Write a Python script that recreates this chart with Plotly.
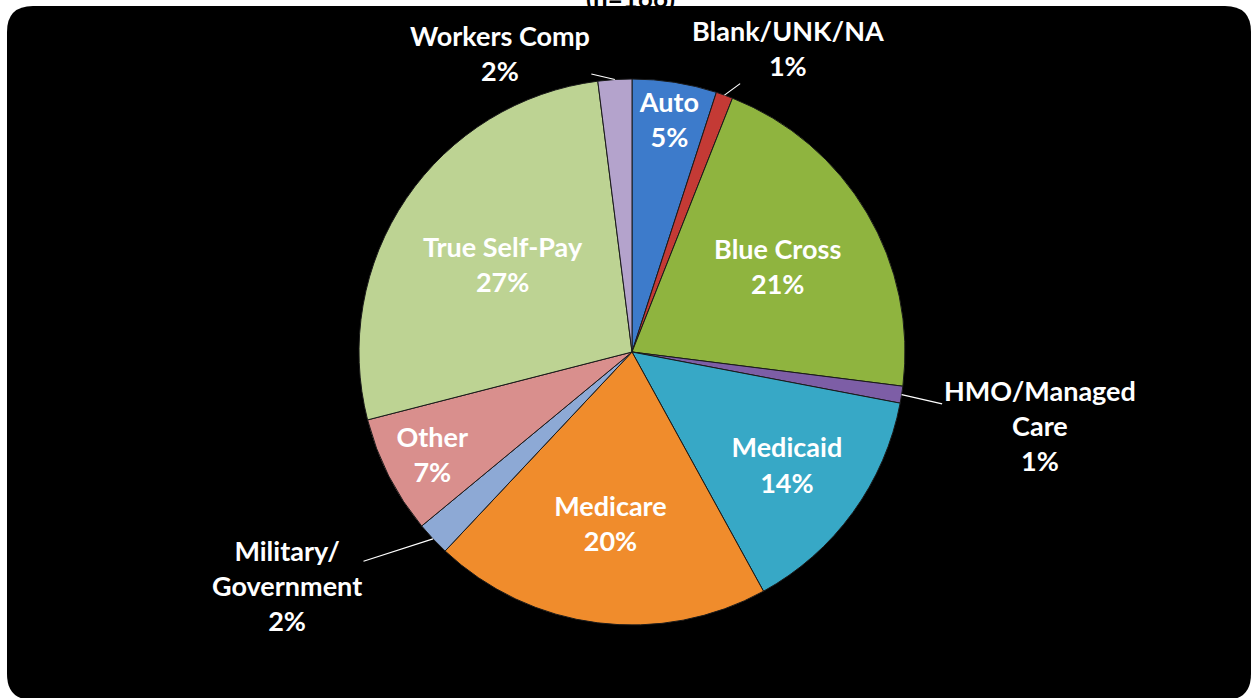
import math
import plotly.graph_objects as go

# payer mix, clockwise from 12 o'clock
labels = ["Auto", "Blank/UNK/NA", "Blue Cross", "HMO/Managed Care", "Medicaid",
          "Medicare", "Military/ Government", "Other", "True Self-Pay", "Workers Comp"]
values = [5, 1, 21, 1, 14, 20, 2, 7, 27, 2]
colors = ["#3D7BCB", "#C43A35", "#8FB43F", "#7D5EA6", "#37A8C6",
          "#F08C2C", "#8DA9D5", "#D98F8D", "#BDD393", "#B4A3CC"]

# small slices get an outside label with a leader line
outside_text = {
    "Blank/UNK/NA": ("Blank/UNK/NA<br>1%", 64, -47),
    "HMO/Managed Care": ("HMO/Managed<br>Care<br>1%", 138, 31),
    "Military/ Government": ("Military/<br>Government<br>2%", -146, 47),
    "Workers Comp": ("Workers Comp<br>2%", -115, -27),
}

W, H = 1252, 698
CX, CY, R = 632, 352, 273
FONT = "Lato"
FS = 27

fig = go.Figure()
fig.add_trace(go.Pie(
    labels=labels,
    values=values,
    sort=False,
    direction="clockwise",
    rotation=0,
    marker=dict(colors=colors, line=dict(color="#1a1a1a", width=1)),
    texttemplate="%{label}<br>%{percent:.0%}",
    textposition=["none" if l in outside_text else "inside" for l in labels],
    insidetextorientation="horizontal",
    textfont=dict(family=FONT, size=FS, color="white", weight="bold"),
    domain=dict(x=[(CX - R) / W, (CX + R) / W], y=[1 - (CY + R) / H, 1 - (CY - R) / H]),
    hoverinfo="label+percent",
    showlegend=False,
))

# leader-line labels, arrow tip at the slice's mid angle on the rim
total = sum(values)
cum = 0
annotations = []
for lab, val in zip(labels, values):
    mid = (cum + val / 2) / total * 2 * math.pi
    cum += val
    if lab not in outside_text:
        continue
    text, ax, ay = outside_text[lab]
    tx = CX + R * math.sin(mid)
    ty = CY - R * math.cos(mid)
    annotations.append(dict(
        x=tx / W, y=1 - ty / H, xref="paper", yref="paper",
        text=text, showarrow=True, arrowhead=0, arrowwidth=1.2, arrowcolor="white",
        ax=ax, ay=ay, standoff=0,
        font=dict(family=FONT, size=FS, color="white", weight="bold"),
    ))

# title cut off at the top edge
annotations.append(dict(
    x=630 / W, y=1 + 2 / H, xref="paper", yref="paper", yanchor="middle",
    text="(n=166)", showarrow=False,
    font=dict(family=FONT, size=26, color="black", weight="bold"),
))

# black rounded panel behind the pie
x0, x1, y0, y1, rr = 7, 1251, 6, 700, 26


def px(x, y):
    return f"{x / W:.5f},{1 - y / H:.5f}"


panel = (f"M {px(x0 + rr, y0)} L {px(x1 - rr, y0)} Q {px(x1, y0)} {px(x1, y0 + rr)} "
         f"L {px(x1, y1 - rr)} Q {px(x1, y1)} {px(x1 - rr, y1)} "
         f"L {px(x0 + rr, y1)} Q {px(x0, y1)} {px(x0, y1 - rr)} "
         f"L {px(x0, y0 + rr)} Q {px(x0, y0)} {px(x0 + rr, y0)} Z")

fig.update_layout(
    width=W, height=H,
    margin=dict(l=0, r=0, t=0, b=0),
    paper_bgcolor="white",
    plot_bgcolor="white",
    shapes=[dict(type="path", path=panel, xref="paper", yref="paper",
                 fillcolor="black", line=dict(width=0), layer="below")],
    annotations=annotations,
    uniformtext=dict(minsize=FS, mode="show"),
)

# drop the page's default body margin so the figure sits at the window's corner
fig.write_html("out.html", config={"displayModeBar": False},
               post_script="document.body.style.margin = '0';")
